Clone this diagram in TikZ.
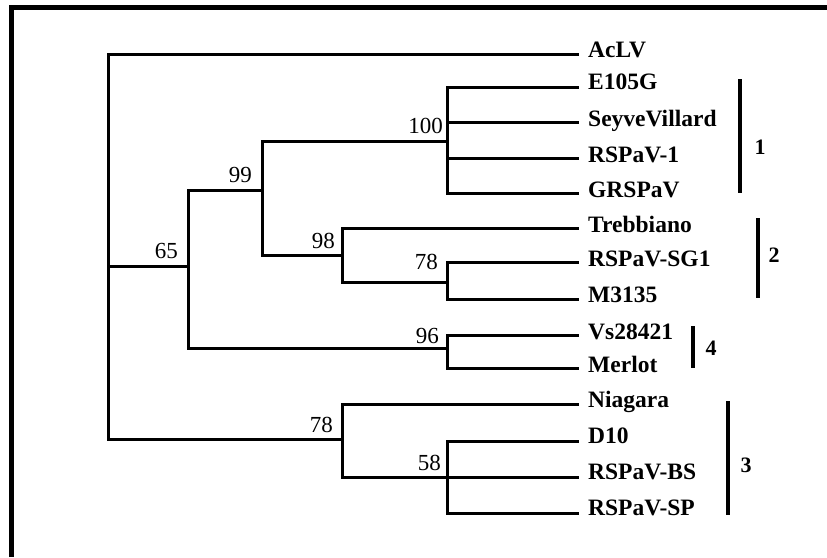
\documentclass[tikz,border=0pt]{standalone}
\usepackage{fontspec}
\setmainfont{Liberation Serif}
\begin{document}
\begin{tikzpicture}[x=1pt,y=-1pt,
  branch/.style={line width=3pt,line join=miter,line cap=rect},
  leaf/.style={anchor=base west,inner sep=0pt,font=\fontsize{23.5}{27}\selectfont\bfseries},
  boot/.style={anchor=base east,inner sep=0pt,font=\fontsize{23}{27}\selectfont},
  clbar/.style={line width=4pt},
  clnum/.style={inner sep=0pt,font=\fontsize{22}{26}\selectfont\bfseries}]
\useasboundingbox (0,0) rectangle (827,557);
% frame (top and left)
\draw[line width=5pt] (11,557) -- (11,7.5) -- (827,7.5);
% internal nodes
\coordinate (root) at (108,266);
\coordinate (n65) at (188,266);
\coordinate (n99) at (262,190);
\coordinate (n100) at (447,141);
\coordinate (n98) at (342,255);
\coordinate (n78a) at (447,282);
\coordinate (n96) at (447,348);
\coordinate (n78b) at (342,439);
\coordinate (n58) at (447,477);
% leaf tips
\coordinate (tAcLV) at (577,54);
\coordinate (tE) at (577,87);
\coordinate (tSV) at (577,122);
\coordinate (tR1) at (577,158);
\coordinate (tGR) at (577,193);
\coordinate (tTr) at (577,228);
\coordinate (tSG) at (577,262);
\coordinate (tM) at (577,299);
\coordinate (tVs) at (577,335);
\coordinate (tMe) at (577,368);
\coordinate (tNi) at (577,404);
\coordinate (tD) at (577,441);
\coordinate (tBS) at (577,477);
\coordinate (tSP) at (577,513);
% leaf labels
\node[leaf] (AcLV) at (588,57) {AcLV};
\node[leaf] (E105G) at (588,89) {E105G};
\node[leaf] (SV) at (588,126) {SeyveVillard};
\node[leaf] (R1) at (588,162) {RSPaV-1};
\node[leaf] (GR) at (588,197) {GRSPaV};
\node[leaf] (Tr) at (588,232) {Trebbiano};
\node[leaf] (SG) at (588,266) {RSPaV-SG1};
\node[leaf] (M) at (588,302) {M3135};
\node[leaf] (Vs) at (588,339) {Vs28421};
\node[leaf] (Me) at (588,372) {Merlot};
\node[leaf] (Ni) at (588,407) {Niagara};
\node[leaf] (D) at (588,443) {D10};
\node[leaf] (BS) at (588,479) {RSPaV-BS};
\node[leaf] (SP) at (588,515) {RSPaV-SP};
% branches
\draw[branch] (root) |- (tAcLV);
\draw[branch] (root) |- (n65);
\draw[branch] (root) |- (n78b);
\draw[branch] (n65) |- (n99);
\draw[branch] (n65) |- (n96);
\draw[branch] (n99) |- (n100);
\draw[branch] (n99) |- (n98);
\draw[branch] (n100) |- (tE);
\draw[branch] (n100) |- (tSV);
\draw[branch] (n100) |- (tR1);
\draw[branch] (n100) |- (tGR);
\draw[branch] (n98) |- (tTr);
\draw[branch] (n98) |- (n78a);
\draw[branch] (n78a) |- (tSG);
\draw[branch] (n78a) |- (tM);
\draw[branch] (n96) |- (tVs);
\draw[branch] (n96) |- (tMe);
\draw[branch] (n78b) |- (tNi);
\draw[branch] (n78b) |- (n58);
\draw[branch] (n58) |- (tD);
\draw[branch] (n58) |- (tBS);
\draw[branch] (n58) |- (tSP);
% bootstrap values
\node[boot] (b65) at ([shift={(-10,-8)}]n65) {65};
\node[boot] (b99) at ([shift={(-10,-8)}]n99) {99};
\node[boot] (b100) at ([shift={(-4,-8)}]n100) {100};
\node[boot] (b98) at ([shift={(-7,-7)}]n98) {98};
\node[boot] (b78a) at ([shift={(-9,-13)}]n78a) {78};
\node[boot] (b96) at ([shift={(-8,-5)}]n96) {96};
\node[boot] (b78b) at ([shift={(-9,-7)}]n78b) {78};
\node[boot] (b58) at ([shift={(-6,-7)}]n58) {58};
% cluster bars
\coordinate (c1a) at (740,79);  \coordinate (c1b) at (740,193);
\coordinate (c2a) at (758,218); \coordinate (c2b) at (758,298);
\coordinate (c4a) at (693,326); \coordinate (c4b) at (693,368);
\coordinate (c3a) at (728,401); \coordinate (c3b) at (728,515);
\draw[clbar] (c1a) -- (c1b);
\draw[clbar] (c2a) -- (c2b);
\draw[clbar] (c4a) -- (c4b);
\draw[clbar] (c3a) -- (c3b);
\node[clnum] (k1) at (760,147) {1};
\node[clnum] (k2) at (774,255) {2};
\node[clnum] (k4) at (711,348) {4};
\node[clnum] (k3) at (746,465) {3};
\end{tikzpicture}
\end{document}
